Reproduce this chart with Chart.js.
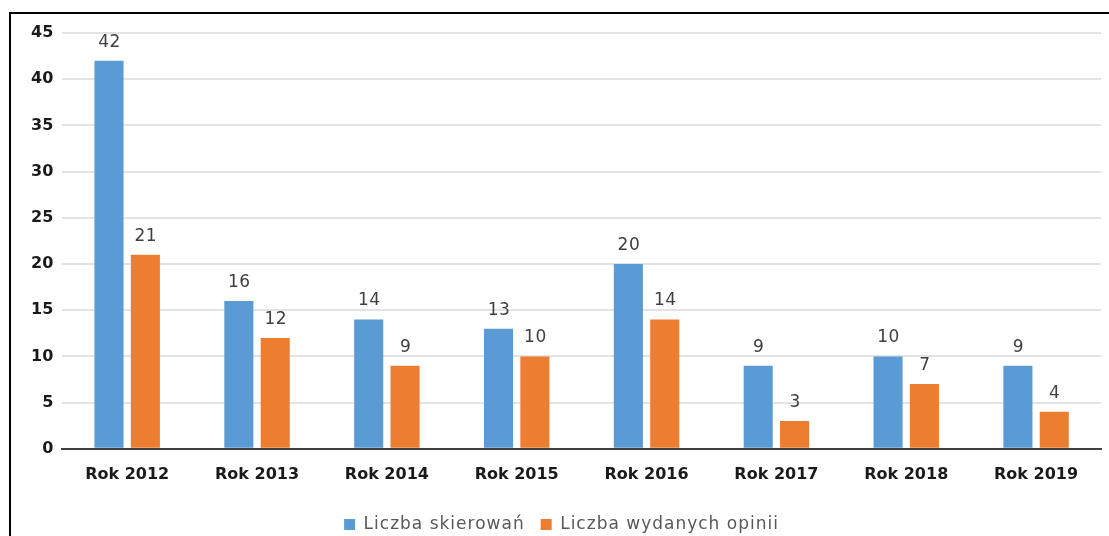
<!DOCTYPE html>
<html>
<head>
<meta charset="utf-8">
<script src="https://cdn.jsdelivr.net/npm/chart.js@4"></script>
<style>
  body { margin: 0; background: #fff; }
  #frame {
    position: absolute; left: 9px; top: 12px;
    width: 1100px; height: 524px;
    border-top: 2px solid #000; border-left: 2px solid #000;
  }
  #wrap { position: relative; width: 1098px; height: 522px; }
</style>
</head>
<body>
<div id="frame"><div id="wrap"><canvas id="BarChart"></canvas></div></div>
<script>
const labels = ['Rok 2012', 'Rok 2013', 'Rok 2014', 'Rok 2015', 'Rok 2016', 'Rok 2017', 'Rok 2018', 'Rok 2019'];
const skierowan = [42, 16, 14, 13, 20, 9, 10, 9];
const opinie = [21, 12, 9, 10, 14, 3, 7, 4];

// labels over each bar
const valueLabels = {
    id: 'valueLabels',
    afterDatasetsDraw(chart) {
        const ctx = chart.ctx;
        ctx.save();
        ctx.font = '17px "DejaVu Sans"';
        ctx.letterSpacing = '0.5px';
        ctx.fillStyle = '#404040';
        ctx.textAlign = 'center';
        ctx.textBaseline = 'bottom';
        chart.data.datasets.forEach((ds, i) => {
            chart.getDatasetMeta(i).data.forEach((bar, j) => {
                ctx.fillText(ds.data[j], bar.x + 0.5, bar.y - 10);
            });
        });
        ctx.restore();
    }
};

// a bit of letter spacing in the legend, and a flatter legend box
const legendTweak = {
    id: 'legendTweak',
    afterInit(chart) {
        const lg = chart.legend;
        if (!lg) return;
        const fit = lg.fit.bind(lg);
        const draw = lg.draw.bind(lg);
        lg.fit = function () {
            this.ctx.letterSpacing = '1px';
            fit();
            this.ctx.letterSpacing = '0px';
            this.height -= 10;
        };
        lg.draw = function () {
            this.ctx.letterSpacing = '1px';
            draw();
            this.ctx.letterSpacing = '0px';
        };
    }
};

const config = {
    type: 'bar',
    data: {
        labels: labels,
        datasets: [{
            label: 'Liczba skierowań',
            data: skierowan,
            backgroundColor: '#5B9BD5',
            categoryPercentage: 0.56,
            barPercentage: 0.8
        }, {
            label: 'Liczba wydanych opinii',
            data: opinie,
            backgroundColor: '#ED7D31',
            categoryPercentage: 0.56,
            barPercentage: 0.8
        }]
    },
    options: {
        responsive: true,
        maintainAspectRatio: false,
        animation: false,
        layout: { padding: { top: 19, right: 8, left: 11, bottom: 3 } },
        plugins: {
            tooltip: { enabled: false },
            legend: {
                position: 'bottom',
                labels: {
                    boxWidth: 11,
                    boxHeight: 11,
                    padding: 16,
                    color: '#595959',
                    font: { family: '"DejaVu Sans"', size: 17 }
                }
            }
        },
        scales: {
            x: {
                grid: { display: false, drawTicks: false },
                border: { display: true, color: '#404040', width: 2 },
                ticks: {
                    color: '#1a1a1a',
                    padding: 16,
                    font: { family: '"DejaVu Sans"', size: 16, weight: 'bold' }
                }
            },
            y: {
                min: 0,
                max: 45,
                ticks: {
                    stepSize: 5,
                    color: '#1a1a1a',
                    padding: 9,
                    font: { family: '"DejaVu Sans"', size: 16, weight: 'bold' }
                },
                grid: {
                    drawTicks: false,
                    color: ctx => ctx.tick.value === 0 ? '#404040' : '#e3e3e3',
                    lineWidth: 2
                },
                border: { display: false }
            }
        }
    },
    plugins: [valueLabels, legendTweak]
};

new Chart(document.getElementById('BarChart'), config);
</script>
</body>
</html>
